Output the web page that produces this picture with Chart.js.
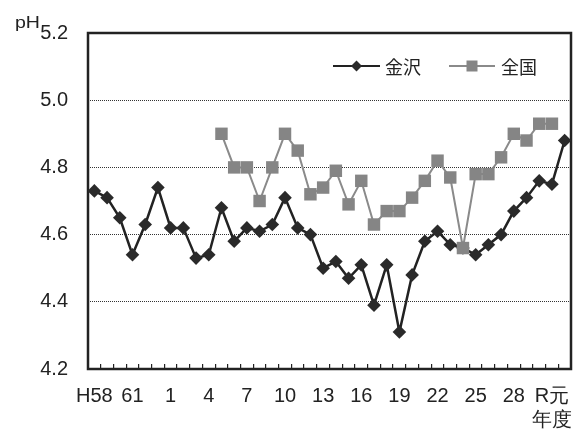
<!DOCTYPE html>
<html>
<head>
<meta charset="utf-8">
<script src="https://cdn.jsdelivr.net/npm/chart.js@4/dist/chart.umd.min.js"></script>
<style>
html, body { margin: 0; padding: 0; background: #fff; }
#wrap { width: 574px; height: 431px; position: relative; }
</style>
</head>
<body>
<div id="wrap"><canvas id="ph-chart" width="574" height="431"></canvas></div>
<script>
// fiscal years S58 .. R2
var years = ["S58","S59","S60","S61","S62","S63",
  "H1","H2","H3","H4","H5","H6","H7","H8","H9","H10",
  "H11","H12","H13","H14","H15","H16","H17","H18","H19","H20",
  "H21","H22","H23","H24","H25","H26","H27","H28","H29","H30",
  "R1","R2"];

var tickLabels = ["H58","","","61","","","1","","","4","","","7","","","10",
  "","","13","","","16","","","19","","","22","","","25","","","28","",
  "", ["R元","年度"], ""];

var kanazawa = [4.73, 4.71, 4.65, 4.54, 4.63, 4.74, 4.62, 4.62, 4.53, 4.54,
  4.68, 4.58, 4.62, 4.61, 4.63, 4.71, 4.62, 4.60, 4.50, 4.52,
  4.47, 4.51, 4.39, 4.51, 4.31, 4.48, 4.58, 4.61, 4.57, 4.56,
  4.54, 4.57, 4.60, 4.67, 4.71, 4.76, 4.75, 4.88];

var national = [null, null, null, null, null, null, null, null, null, null,
  4.90, 4.80, 4.80, 4.70, 4.80, 4.90, 4.85, 4.72, 4.74, 4.79,
  4.69, 4.76, 4.63, 4.67, 4.67, 4.71, 4.76, 4.82, 4.77, 4.56,
  4.78, 4.78, 4.83, 4.90, 4.88, 4.93, 4.93, null];

var yTicks = [4.2, 4.4, 4.6, 4.8, 5.0, 5.2];

var numFont = "'Liberation Sans', Arial, sans-serif";
var jpFont = "'Noto Sans CJK JP', sans-serif";

var framePlugin = {
    id: 'frame',
    beforeDatasetsDraw: function (chart) {
        var a = chart.chartArea, ctx = chart.ctx;
        ctx.save();
        ctx.strokeStyle = '#222';
        ctx.lineWidth = 2.5;
        ctx.strokeRect(a.left, a.top, a.right - a.left, a.bottom - a.top);
        ctx.restore();
    },
    afterDraw: function (chart) {
        var a = chart.chartArea, ctx = chart.ctx;
        ctx.save();
        // unit label (slightly wide type in the original)
        ctx.fillStyle = '#222';
        ctx.font = "17px " + numFont;
        ctx.textAlign = 'left';
        ctx.textBaseline = 'alphabetic';
        ctx.save();
        ctx.translate(15, 28);
        ctx.scale(1.15, 1);
        ctx.fillText('pH', 0, 0);
        ctx.restore();

        // legend with line + marker
        var ly = a.top + 33;
        var items = [
            { ds: chart.data.datasets[1], x1: a.right - 238, x2: a.right - 191, tx: a.right - 186, shape: 'diamond' },
            { ds: chart.data.datasets[0], x1: a.right - 122, x2: a.right - 76, tx: a.right - 70, shape: 'square' }
        ];
        items.forEach(function (it) {
            var mx = (it.x1 + it.x2) / 2;
            ctx.strokeStyle = it.ds.borderColor;
            ctx.lineWidth = 2;
            ctx.beginPath();
            ctx.moveTo(it.x1, ly);
            ctx.lineTo(it.x2, ly);
            ctx.stroke();
            ctx.fillStyle = it.ds.pointBackgroundColor;
            ctx.beginPath();
            if (it.shape == 'diamond') {
                ctx.moveTo(mx, ly - 5.5);
                ctx.lineTo(mx + 5.5, ly);
                ctx.lineTo(mx, ly + 5.5);
                ctx.lineTo(mx - 5.5, ly);
                ctx.closePath();
            } else {
                ctx.rect(mx - 5.5, ly - 5.5, 11, 11);
            }
            ctx.fill();
            ctx.fillStyle = '#222';
            ctx.font = "18px " + jpFont;
            ctx.textBaseline = 'middle';
            ctx.fillText(it.ds.label, it.tx, ly + 1);
        });
        ctx.restore();
    }
};

var phChart = new Chart(document.getElementById('ph-chart'), {
    type: 'line',
    data: {
        labels: years,
        datasets: [
            {
                label: '全国',
                data: national,
                order: 0,
                borderColor: '#8a8a8a',
                borderWidth: 2,
                pointStyle: 'rect',
                pointRadius: 8.8,
                pointHoverRadius: 8.8,
                pointBackgroundColor: '#858585',
                pointBorderWidth: 0,
                spanGaps: false,
                clip: false
            },
            {
                label: '金沢',
                data: kanazawa,
                order: 1,
                borderColor: '#222',
                borderWidth: 2.5,
                pointStyle: 'rectRot',
                pointRadius: 6.8,
                pointHoverRadius: 6.8,
                pointBackgroundColor: '#2a2a2a',
                pointBorderWidth: 0,
                clip: false
            }
        ]
    },
    options: {
        responsive: false,
        animation: false,
        events: [],
        layout: { autoPadding: false, padding: { left: 0, right: 3, top: 33, bottom: 0 } },
        plugins: {
            legend: { display: false },
            tooltip: { enabled: false }
        },
        scales: {
            x: {
                type: 'category',
                offset: true,
                grid: {
                    offset: true,
                    drawOnChartArea: false,
                    drawTicks: true,
                    tickLength: -5,
                    color: '#222',
                    lineWidth: 1.2
                },
                border: { display: false },
                ticks: {
                    autoSkip: false,
                    maxRotation: 0,
                    minRotation: 0,
                    padding: 20,
                    color: '#222',
                    font: { family: numFont, size: 20 },
                    callback: function (v, i) { return tickLabels[i]; }
                },
                afterFit: function (scale) {
                    scale.height = 62;
                    scale.paddingLeft = 0;
                    scale.paddingRight = 0;
                }
            },
            y: {
                min: 4.2,
                max: 5.2,
                afterBuildTicks: function (scale) {
                    scale.ticks = yTicks.map(function (v) { return { value: v }; });
                },
                grid: {
                    drawTicks: false,
                    color: '#333',
                    lineWidth: 1
                },
                border: { display: false, dash: [1, 1] },
                ticks: {
                    padding: 20,
                    color: '#222',
                    font: { family: numFont, size: 20 },
                    callback: function (v) { return v.toFixed(1); }
                },
                afterFit: function (scale) { scale.width = 88; }
            }
        }
    },
    plugins: [framePlugin]
});
</script>
</body>
</html>
